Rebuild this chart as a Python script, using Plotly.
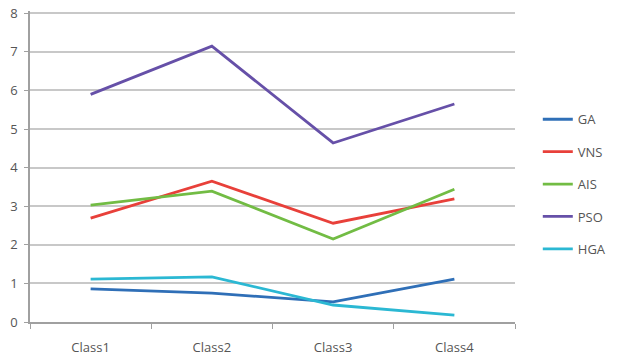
import plotly.graph_objects as go

categories = ["Class1", "Class2", "Class3", "Class4"]
series_names = ["GA", "VNS", "AIS", "PSO", "HGA"]
ga = [0.86, 0.75, 0.52, 1.11]
vns = [2.69, 3.65, 2.56, 3.19]
ais = [3.03, 3.39, 2.15, 3.44]
pso = [5.9, 7.15, 4.64, 5.65]
hga = [1.11, 1.17, 0.44, 0.18]
colors = ["#2F6FB7", "#E8403A", "#72BC44", "#6650A8", "#2BB8D3"]
y_ticks = [0, 1, 2, 3, 4, 5, 6, 7, 8]

fig = go.Figure()
for name, vals, col in zip(series_names, [ga, vns, ais, pso, hga], colors):
    fig.add_trace(go.Scatter(x=categories, y=vals, mode="lines", name=name,
                             legendgroup=name,
                             line=dict(color=col, width=2.8)))

fig.update_layout(
    width=620, height=360,
    margin=dict(l=30, r=105, t=11, b=38, autoexpand=False),
    paper_bgcolor="white", plot_bgcolor="white",
    font=dict(family="Open Sans, Arial, sans-serif", size=13, color="#555555"),
    showlegend=True,
    legend=dict(x=1.047, y=0.70, xanchor="left", yanchor="top",
                tracegroupgap=12.5, traceorder="grouped",
                font=dict(size=13, color="#555555"),
                bgcolor="rgba(0,0,0,0)"),
    xaxis=dict(type="category", range=[-0.5, 3.5], showgrid=False,
               showline=True, linecolor="#A0A0A0", linewidth=1.5,
               ticks="outside", tickson="boundaries", ticklen=5,
               tickcolor="#A0A0A0", zeroline=False, automargin=False,
               ticklabelstandoff=13),
    yaxis=dict(range=[0, 8.06], tickvals=y_ticks, showgrid=True,
               gridcolor="#C8C8C8", gridwidth=1.5,
               showline=True, linecolor="#A0A0A0", linewidth=1.5,
               ticks="outside", ticklen=4, tickcolor="#A0A0A0",
               zeroline=False, ticklabelstandoff=4, automargin=False),
)
fig.write_html("out.html")
